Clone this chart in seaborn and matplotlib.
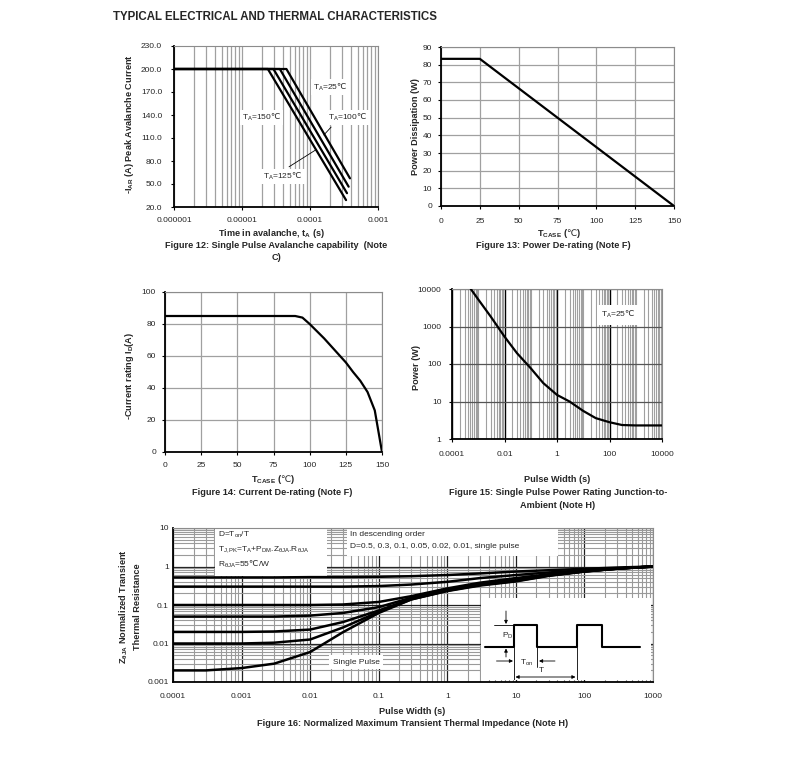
import numpy as np
import pandas as pd
import matplotlib
matplotlib.use("Agg")
import matplotlib.pyplot as plt
import seaborn as sns
from matplotlib.ticker import FixedLocator, NullFormatter
from matplotlib.patches import Rectangle

# ------------------------------------------------------------------ data
# Figure 12: single pulse avalanche capability
av_temps = ["25", "100", "125", "150"]
av_start_t = 1e-6
av_break_t = [4.5e-5, 3.6e-5, 2.9e-5, 2.4e-5]
av_end_t = [3.87e-4, 3.70e-4, 3.50e-4, 3.39e-4]
av_flat_i = 200.0
av_end_i = [57.4, 46.5, 38.0, 29.0]
av_xticks = [1e-6, 1e-5, 1e-4, 1e-3]
av_xlabels = ["0.000001", "0.00001", "0.0001", "0.001"]
av_yticks = [20, 50, 80, 110, 140, 170, 200, 230]

# Figure 13: power de-rating
pd_temp = [0, 25, 150]
pd_power = [83.3, 83.3, 0.0]
pd_xticks = [0, 25, 50, 75, 100, 125, 150]
pd_yticks = [0, 10, 20, 30, 40, 50, 60, 70, 80, 90]

# Figure 14: current de-rating
id_temp = [0, 90, 95, 100, 110, 120, 125, 130, 135, 140, 145, 150]
id_curr = [85, 85, 84, 80, 71, 61, 56, 50, 44.5, 37.5, 26, 0]
id_xticks = [0, 25, 50, 75, 100, 125, 150]
id_yticks = [0, 20, 40, 60, 80, 100]

# Figure 15: single pulse power rating
sp_width = [5.2e-4, 1e-3, 3e-3, 1e-2, 3e-2, 1e-1, 3e-1, 1, 3, 10, 30, 100, 300, 1000, 1e4]
sp_power = [10000, 5270, 1830, 537, 194, 77, 31, 15, 10, 5.6, 3.6, 2.8, 2.36, 2.3, 2.3]
sp_xticks = [1e-4, 1e-2, 1, 100, 1e4]
sp_xlabels = ["0.0001", "0.01", "1", "100", "10000"]
sp_yticks = [1, 10, 100, 1000, 10000]
sp_ylabels = ["1", "10", "100", "1000", "10000"]

# Figure 16: normalized transient thermal impedance
zt_width = [1e-4, 3e-4, 1e-3, 3e-3, 1e-2, 3e-2, 1e-1, 3e-1, 1, 3, 10, 30, 100, 300, 1000]
zt_d050 = [0.52, 0.52, 0.52, 0.52, 0.53, 0.53, 0.54, 0.56, 0.60, 0.66, 0.74, 0.80, 0.87, 0.94, 1.0]
zt_d030 = [0.30, 0.30, 0.30, 0.30, 0.30, 0.30, 0.31, 0.34, 0.40, 0.50, 0.60, 0.70, 0.80, 0.90, 1.0]
zt_d010 = [0.10, 0.10, 0.10, 0.10, 0.10, 0.103, 0.12, 0.17, 0.27, 0.38, 0.50, 0.63, 0.76, 0.88, 1.0]
zt_d005 = [0.05, 0.05, 0.05, 0.05, 0.053, 0.062, 0.088, 0.155, 0.25, 0.35, 0.46, 0.60, 0.75, 0.88, 1.0]
zt_d002 = [0.02, 0.02, 0.02, 0.0205, 0.023, 0.036, 0.072, 0.145, 0.24, 0.34, 0.44, 0.59, 0.75, 0.88, 1.0]
zt_d001 = [0.01, 0.01, 0.01, 0.0105, 0.0127, 0.026, 0.066, 0.14, 0.235, 0.33, 0.42, 0.58, 0.74, 0.88, 1.0]
zt_single = [0.002, 0.002, 0.0023, 0.003, 0.006, 0.0196, 0.062, 0.14, 0.23, 0.32, 0.41, 0.57, 0.74, 0.88, 1.0]
zt_xticks = [1e-4, 1e-3, 1e-2, 1e-1, 1, 10, 100, 1000]
zt_xlabels = ["0.0001", "0.001", "0.01", "0.1", "1", "10", "100", "1000"]
zt_yticks = [1e-3, 1e-2, 1e-1, 1, 10]
zt_ylabels = ["0.001", "0.01", "0.1", "1", "10"]

# ------------------------------------------------------------------ style
sns.set_theme(style="white")
plt.rcParams["font.family"] = ["Liberation Sans", "DejaVu Sans"]
plt.rcParams["mathtext.fontset"] = "custom"
plt.rcParams["mathtext.rm"] = "Liberation Sans"
plt.rcParams["mathtext.it"] = "Liberation Sans:italic"
plt.rcParams["mathtext.bf"] = "Liberation Sans:bold"
plt.rcParams["mathtext.sf"] = "DejaVu Sans"
plt.rcParams["mathtext.default"] = "regular"

W, H = 793, 773
fig = plt.figure(figsize=(W / 100, H / 100), dpi=100)
fig.patch.set_facecolor("white")

TICK = 6
LAB = 6.6
GRAY = "#a0a0a0"
DEG = r"$\mathsf{\u2103}$".replace(r"\u2103", "\u2103")


def add_ax(l, t, r, b):
    return fig.add_axes([l / W, 1 - b / H, (r - l) / W, (b - t) / H])


def ftext(x, y, s, **kw):
    kw.setdefault("ha", "center")
    kw.setdefault("va", "center")
    return fig.text(x / W, 1 - y / H, s, **kw)


def style(ax, xpad=6, ypad=4):
    ax.set_facecolor("white")
    for s in ["left", "bottom"]:
        ax.spines[s].set_color("black")
        ax.spines[s].set_linewidth(1.3)
    for s in ["top", "right"]:
        ax.spines[s].set_color("#8c8c8c")
        ax.spines[s].set_linewidth(0.8)
    ax.tick_params(which="major", length=2.5, width=0.8, labelsize=TICK,
                   color="black", bottom=True, left=True)
    ax.tick_params(axis="x", which="major", pad=xpad)
    ax.tick_params(axis="y", which="major", pad=ypad)
    ax.tick_params(which="minor", length=0)
    ax.set_axisbelow(True)
    ax.set_xlabel("")
    ax.set_ylabel("")


def minor_log(lo, hi, exclude=()):
    vals = []
    for e in range(lo, hi):
        for k in range(1, 10):
            v = k * 10.0 ** e
            if not any(np.isclose(v, x) for x in exclude):
                vals.append(v)
    return vals


def line(ax, x, y, lw=1.6, **kw):
    df = pd.DataFrame({"x": x, "y": y})
    sns.lineplot(data=df, x="x", y="y", ax=ax, color="black", lw=lw,
                 estimator=None, sort=False, legend=False, zorder=3, **kw)


ftext(113, 17, "TYPICAL ELECTRICAL AND THERMAL CHARACTERISTICS",
      ha="left", weight="bold", size=8.3)

# ------------------------------------------------------------------ Figure 12
ax = add_ax(174, 46, 378, 207)
for i, t in enumerate(av_temps):
    line(ax, [av_start_t, av_break_t[i], av_end_t[i]],
         [av_flat_i, av_flat_i, av_end_i[i]], lw=1.6)
ax.set_xscale("log")
ax.set_xlim(1e-6, 1e-3)
ax.set_ylim(20, 230)
ax.set_xticks(av_xticks, av_xlabels)
ax.set_yticks(av_yticks, [f"{v:.1f}" for v in av_yticks])
ax.xaxis.set_minor_locator(FixedLocator(minor_log(-6, -3)))
ax.xaxis.set_minor_formatter(NullFormatter())
ax.grid(which="both", axis="x", color=GRAY, lw=0.9)
style(ax, xpad=5, ypad=6)
box = dict(facecolor="white", edgecolor="none", pad=1.5)
ax.text(1.97e-4, 176.5, "T$_A$=25" + DEG, fontsize=TICK, ha="center", va="center", bbox=box, zorder=4)
ax.text(1.95e-5, 136.4, "T$_A$=150" + DEG, fontsize=TICK, ha="center", va="center", bbox=box, zorder=4)
ax.text(3.6e-4, 136.4, "T$_A$=100" + DEG, fontsize=TICK, ha="center", va="center", bbox=box, zorder=4)
ax.text(4.0e-5, 59.5, "T$_A$=125" + DEG, fontsize=TICK, ha="center", va="center", bbox=box, zorder=4)
ax.annotate("", xy=(2.18e-4, 126.9), xytext=(1.5e-4, 111.3),
            arrowprops=dict(arrowstyle="-", lw=0.6, color="black"), zorder=4)
ax.annotate("", xy=(1.32e-4, 96.5), xytext=(4.54e-5, 70.5),
            arrowprops=dict(arrowstyle="-", lw=0.6, color="black"), zorder=4)
ftext(130, 124, r"-I$_\mathbf{AR}$ (A) Peak Avalanche Current", rotation=90,
      weight="bold", size=LAB)
ftext(272, 233, r"Time in avalanche, t$_\mathbf{A}$ (s)", weight="bold", size=LAB)
ftext(276, 245, "Figure 12: Single Pulse Avalanche capability  (Note", weight="bold", size=LAB)
ftext(276, 258, "C)", weight="bold", size=LAB)

# ------------------------------------------------------------------ Figure 13
ax = add_ax(441, 47, 674, 206)
line(ax, pd_temp, pd_power, lw=1.6)
ax.set_xlim(0, 150)
ax.set_ylim(0, 90)
ax.set_xticks(pd_xticks)
ax.set_yticks(pd_yticks)
ax.grid(which="major", color=GRAY, lw=0.9)
style(ax, xpad=6, ypad=4)
ftext(415, 127, "Power Dissipation (W)", rotation=90, weight="bold", size=LAB)
ftext(559, 233, r"T$_\mathbf{CASE}$ (" + DEG + ")", weight="bold", size=LAB)
ftext(553, 245, "Figure 13: Power De-rating (Note F)", weight="bold", size=LAB)

# ------------------------------------------------------------------ Figure 14
ax = add_ax(165, 292, 382, 452)
line(ax, id_temp, id_curr, lw=1.6)
ax.set_xlim(0, 150)
ax.set_ylim(0, 100)
ax.set_xticks(id_xticks)
ax.set_yticks(id_yticks)
ax.grid(which="major", color=GRAY, lw=0.9)
style(ax, xpad=5, ypad=4)
ftext(130, 376, r"-Current rating I$_\mathbf{D}$(A)", rotation=90, weight="bold", size=LAB)
ftext(273, 480, r"T$_\mathbf{CASE}$ (" + DEG + ")", weight="bold", size=LAB)
ftext(272, 492, "Figure 14: Current De-rating (Note F)", weight="bold", size=LAB)

# ------------------------------------------------------------------ Figure 15
ax = add_ax(452, 289, 662, 439)
line(ax, sp_width, sp_power, lw=1.6)
ax.set_xscale("log")
ax.set_yscale("log")
ax.set_xlim(1e-4, 1e4)
ax.set_ylim(1, 1e4)
ax.set_xticks(sp_xticks, sp_xlabels)
ax.set_yticks(sp_yticks, sp_ylabels)
ax.xaxis.set_minor_locator(FixedLocator(minor_log(-4, 4, exclude=sp_xticks)))
ax.xaxis.set_minor_formatter(NullFormatter())
ax.yaxis.set_minor_locator(FixedLocator([]))
ax.grid(which="minor", axis="x", color=GRAY, lw=0.8)
ax.grid(which="major", axis="x", color="black", lw=1.0)
ax.grid(which="major", axis="y", color="#555555", lw=0.9)
style(ax, xpad=6, ypad=5)
ax.text(209, 2040, "T$_A$=25" + DEG, fontsize=TICK, ha="center", va="center",
        bbox=dict(facecolor="white", edgecolor="none", pad=3), zorder=4)
ftext(417, 368, "Power (W)", rotation=90, weight="bold", size=LAB)
ftext(557, 480, "Pulse Width (s)", weight="bold", size=LAB)
ftext(558, 492, "Figure 15: Single Pulse Power Rating Junction-to-", weight="bold", size=LAB)
ftext(558, 505, "Ambient (Note H)", weight="bold", size=LAB)

# ------------------------------------------------------------------ Figure 16
ax = add_ax(173, 528, 653, 682)
for ys in [zt_d050, zt_d030, zt_d010, zt_d005, zt_d002, zt_d001, zt_single]:
    line(ax, zt_width, ys, lw=1.8)
ax.set_xscale("log")
ax.set_yscale("log")
ax.set_xlim(1e-4, 1e3)
ax.set_ylim(1e-3, 10)
ax.set_xticks(zt_xticks, zt_xlabels)
ax.set_yticks(zt_yticks, zt_ylabels)
ax.xaxis.set_minor_locator(FixedLocator(minor_log(-4, 3, exclude=zt_xticks)))
ax.yaxis.set_minor_locator(FixedLocator(minor_log(-3, 1, exclude=zt_yticks)))
ax.xaxis.set_minor_formatter(NullFormatter())
ax.yaxis.set_minor_formatter(NullFormatter())
ax.grid(which="minor", color="#9a9a9a", lw=0.8)
ax.grid(which="major", color="#202020", lw=0.9)
style(ax, xpad=8, ypad=3)
ax.tick_params(which="major", length=0)
ax.add_patch(Rectangle((0.0875, 0.688), 0.233, 0.312, transform=ax.transAxes,
                       facecolor="white", edgecolor="none", zorder=2))
ax.add_patch(Rectangle((0.3625, 0.818), 0.44, 0.182, transform=ax.transAxes,
                       facecolor="white", edgecolor="none", zorder=2))
tkw = dict(transform=ax.transAxes, fontsize=TICK, ha="left", va="center", zorder=4)
ax.text(0.094, 1 - (535 - 528) / 154, "D=T$_{on}$/T", **tkw)
ax.text(0.094, 1 - (550 - 528) / 154,
        "T$_{J,PK}$=T$_A$+P$_{DM}$.Z$_{θJA}$.R$_{θJA}$", **tkw)
ax.text(0.094, 1 - (564 - 528) / 154, "R$_{θJA}$=55" + DEG + "/W", **tkw)
ax.text(0.368, 1 - (534 - 528) / 154, "In descending order", **tkw)
ax.text(0.368, 1 - (546 - 528) / 154,
        "D=0.5, 0.3, 0.1, 0.05, 0.02, 0.01, single pulse", **tkw)
ax.text((356 - 173) / 480, 1 - (662 - 528) / 154, "Single Pulse", transform=ax.transAxes,
        fontsize=TICK, ha="center", va="center", zorder=4,
        bbox=dict(facecolor="white", edgecolor="none", pad=2.5))
ftext(130, 607, "Z$_\\mathbf{θJA}$ Normalized Transient\nThermal Resistance", rotation=90,
      weight="bold", size=LAB, linespacing=1.5)
ftext(412, 711, "Pulse Width (s)", weight="bold", size=LAB)
ftext(413, 723, "Figure 16: Normalized Maximum Transient Thermal Impedance (Note H)",
      weight="bold", size=LAB)

# inset schematic (drawn in pixel units of the inset)
pulse_x = [485, 514.3, 514.3, 537.3, 537.3, 576.7, 576.7, 601.7, 601.7, 640]
pulse_y = [647.3, 647.3, 625, 625, 647.3, 647.3, 625, 625, 647.3, 647.3]
ins = add_ax(481, 598, 651, 680)
ins.set_facecolor("white")
ins.set_xticks([])
ins.set_yticks([])
for sp in ins.spines.values():
    sp.set_visible(False)
ins.set_xlim(481, 651)
ins.set_ylim(680, 598)
ins.plot(pulse_x, pulse_y, color="black", lw=1.5)
thin = dict(color="black", lw=0.6)
ins.plot([494, 514], [625, 625], **thin)
ins.plot([514.3, 514.3], [647, 680], **thin)
ins.plot([537.3, 537.3], [647, 667], **thin)
ins.plot([576.7, 576.7], [647, 680], **thin)
arr = dict(arrowstyle="-|>", lw=0.6, color="black", mutation_scale=5, shrinkA=0, shrinkB=0)
ins.annotate("", xy=(506, 624), xytext=(506, 611), arrowprops=arr)
ins.annotate("", xy=(506, 648.5), xytext=(506, 657), arrowprops=arr)
ins.annotate("", xy=(513, 661), xytext=(496.5, 661), arrowprops=arr)
ins.annotate("", xy=(539, 661), xytext=(555, 661), arrowprops=arr)
ins.annotate("", xy=(575.5, 677), xytext=(515.5, 677),
             arrowprops=dict(arrowstyle="<|-|>", lw=0.6, color="black",
                             mutation_scale=5, shrinkA=0, shrinkB=0))
ins.text(508, 635.5, "P$_D$", fontsize=TICK, ha="center", va="center")
ins.text(527, 662.5, "T$_{on}$", fontsize=TICK, ha="center", va="center")
ins.text(541.7, 670, "T", fontsize=TICK, ha="center", va="center")

fig.savefig("out.png", dpi=100, facecolor="white")
